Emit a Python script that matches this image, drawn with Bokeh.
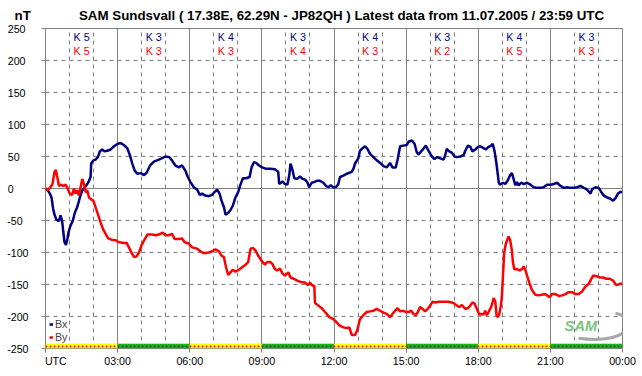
from bokeh.plotting import figure
from bokeh.models import Range1d, FixedTicker, Grid, Label, Legend, LegendItem, ColumnDataSource
from bokeh.embed import file_html
from bokeh.resources import INLINE

# ---------------- data ----------------
bx_hours = [0, 0.10, 0.18, 0.25, 0.32, 0.375, 0.46, 0.56, 0.625, 0.69, 0.74, 0.79, 0.85, 0.90, 0.96,
            1.04, 1.14, 1.22, 1.32, 1.43, 1.53, 1.64, 1.74, 1.81, 1.875, 1.90, 1.99, 2.08, 2.18, 2.26,
            2.36, 2.46, 2.57, 2.71, 2.85, 3.01, 3.125, 3.26, 3.40, 3.51, 3.61, 3.71, 3.82, 3.96, 4.10,
            4.21, 4.35, 4.51, 4.72, 4.99, 5.15, 5.26, 5.40, 5.54, 5.68, 5.82, 5.92, 6.03, 6.17, 6.31,
            6.42, 6.51, 6.65, 6.79, 6.93, 7.04, 7.14, 7.24, 7.32, 7.42, 7.49, 7.60, 7.69, 7.79, 7.90,
            8.01, 8.11, 8.21, 8.35, 8.49, 8.57, 8.67, 8.76, 8.88, 9.01, 9.15, 9.36, 9.54, 9.68, 9.72,
            9.86, 9.96, 10.06, 10.14, 10.19, 10.26, 10.35, 10.47, 10.58, 10.69, 10.79, 10.89, 10.97,
            11.07, 11.17, 11.28, 11.42, 11.56, 11.67, 11.76, 11.86, 11.97, 12.08, 12.18, 12.25, 12.39,
            12.53, 12.74, 12.81, 12.875, 13.01, 13.08, 13.19, 13.29, 13.39, 13.5, 13.64, 13.78, 13.92,
            14.06, 14.19, 14.33, 14.43, 14.57, 14.65, 14.75, 14.89, 15.03, 15.10, 15.24, 15.35, 15.44,
            15.51, 15.625, 15.72, 15.82, 15.93, 16.07, 16.18, 16.28, 16.42, 16.56, 16.625, 16.69,
            16.79, 16.90, 17.01, 17.11, 17.25, 17.39, 17.46, 17.57, 17.67, 17.76, 17.875, 17.99,
            18.08, 18.22, 18.32, 18.43, 18.54, 18.60, 18.68, 18.75, 18.82, 18.85, 18.90, 19.03,
            19.125, 19.22, 19.33, 19.40, 19.47, 19.54, 19.61, 19.68, 19.78, 19.89, 20.03, 20.17,
            20.31, 20.44, 20.58, 20.72, 20.86, 21.0, 21.14, 21.28, 21.42, 21.56, 21.69, 21.83, 21.97,
            22.11, 22.25, 22.39, 22.5, 22.6, 22.67, 22.74, 22.875, 23.01, 23.11, 23.22, 23.36, 23.5,
            23.61, 23.71, 23.81, 23.92, 23.99]
bx_values = [0, -3, -8, -14, -32, -41, -49, -51, -42, -50, -68, -84, -88, -81, -68,
             -58, -50, -38, -29, -14, -3, 2, 7, 12, 18, 39, 44, 45, 49, 58,
             61, 58, 59, 61, 66, 70, 71, 68, 63, 52, 39, 28, 23, 24, 21,
             25, 36, 42, 45, 50, 49, 44, 36, 33, 36, 28, 18, 10, 2, -2,
             -10, -8, -11, -12, -10, -5, -2, -8, -19, -29, -41, -38, -34, -27, -14,
             -6, 6, 16, 16, 18, 33, 41, 40, 36, 33, 31, 31, 30, 26, 7,
             11, 7, 6, 21, 39, 31, 16, 15, 19, 15, 14, 10, 2,
             9, 10, 12, 12, 9, 4, 2, 5, 2, 2, 7, 18, 20,
             23, 26, 31, 39, 47, 59, 63, 66, 62, 54, 49, 44, 40,
             35, 33, 40, 33, 33, 46, 66, 67, 68, 73, 75, 70, 57,
             53, 58, 62, 67, 59, 50, 46, 49, 47, 45, 52, 62,
             58, 56, 50, 49, 50, 52, 59, 67, 65, 58, 61, 65,
             66, 63, 61, 65, 67, 70, 58, 41, 20, 10, 6, 9,
             7, 12, 21, 24, 15, 5, 10, 5, 9, 7, 9, 6,
             2, 1, 1, 2, 6, 6, 7, 9, 4, 1, 2, 1, 1,
             2, 4, 1, -1, -5, -8, -1, 2, 1, -5, -11, -14, -16,
             -19, -15, -8, -5, -6]

by_hours = [0, 0.10, 0.21, 0.29, 0.375, 0.43, 0.49, 0.56, 0.625, 0.74, 0.83, 0.90, 1.01, 1.11, 1.18,
            1.25, 1.32, 1.39, 1.46, 1.53, 1.60, 1.67, 1.74, 1.81, 1.90, 1.99, 2.08, 2.18, 2.29, 2.40,
            2.5, 2.61, 2.74, 2.92, 3.06, 3.26, 3.375, 3.47, 3.57, 3.68, 3.79, 3.89, 3.99, 4.10, 4.24,
            4.44, 4.58, 4.71, 4.875, 4.99, 5.125, 5.26, 5.375, 5.54, 5.68, 5.79, 5.96, 6.10, 6.31,
            6.44, 6.58, 6.79, 6.93, 7.07, 7.21, 7.32, 7.42, 7.51, 7.60, 7.69, 7.79, 7.90, 8.04, 8.18,
            8.32, 8.43, 8.53, 8.625, 8.74, 8.85, 8.99, 9.125, 9.22, 9.36, 9.44, 9.54, 9.64, 9.75,
            9.86, 9.96, 10.10, 10.19, 10.33, 10.47, 10.61, 10.79, 10.93, 11.0, 11.11, 11.18, 11.21,
            11.35, 11.49, 11.625, 11.81, 11.97, 12.11, 12.22, 12.39, 12.53, 12.64, 12.74, 12.875,
            12.97, 13.08, 13.22, 13.36, 13.5, 13.64, 13.78, 13.92, 14.06, 14.19, 14.33, 14.43, 14.54,
            14.65, 14.75, 14.89, 14.99, 15.10, 15.21, 15.31, 15.40, 15.49, 15.58, 15.68, 15.79, 15.90,
            16.0, 16.10, 16.21, 16.35, 16.49, 16.625, 16.76, 16.90, 17.01, 17.11, 17.21, 17.32, 17.46,
            17.57, 17.67, 17.76, 17.85, 17.94, 18.04, 18.125, 18.22, 18.29, 18.36, 18.43, 18.54,
            18.60, 18.64, 18.71, 18.76, 18.82, 18.875, 18.93, 18.98, 19.03, 19.08, 19.15, 19.22,
            19.26, 19.33, 19.40, 19.44, 19.50, 19.61, 19.72, 19.82, 19.89, 19.96, 20.03, 20.14,
            20.24, 20.375, 20.51, 20.65, 20.79, 20.86, 20.97, 21.07, 21.21, 21.35, 21.49, 21.625,
            21.76, 21.90, 22.04, 22.18, 22.32, 22.46, 22.60, 22.69, 22.78, 22.92, 23.06, 23.19,
            23.33, 23.47, 23.61, 23.75, 23.89, 23.99]
by_values = [0, -2, 2, 7, 26, 29, 18, 4, 6, 4, 6, 2, -8, -10, 0,
             -8, -3, -11, 2, 15, 7, -6, -3, -14, -17, -19, -29, -40, -53, -64,
             -71, -78, -80, -81, -84, -85, -85, -92, -100, -107, -106, -100, -89, -81, -72,
             -72, -73, -72, -69, -73, -73, -71, -79, -79, -78, -84, -86, -92, -94,
             -98, -101, -100, -98, -95, -98, -105, -107, -123, -135, -131, -127, -130, -127, -123,
             -119, -115, -94, -93, -97, -105, -113, -119, -115, -115, -118, -126, -128, -125,
             -133, -136, -131, -139, -141, -144, -146, -147, -151, -147, -152, -152, -179,
             -183, -187, -193, -201, -204, -209, -214, -217, -218, -217, -229, -229,
             -221, -204, -198, -193, -192, -191, -188, -191, -194, -196, -201, -196, -191,
             -187, -192, -191, -193, -193, -191, -196, -198, -193, -185, -188, -192, -188,
             -183, -177, -178, -177, -177, -177, -177, -178, -180, -183, -185, -182, -188,
             -187, -183, -178, -180, -188, -197, -196, -197, -191, -198, -193, -185,
             -177, -171, -177, -198, -201, -196, -185, -170, -135, -100, -86, -79,
             -75, -81, -97, -115, -126, -126, -128, -126, -122, -127, -136, -149,
             -159, -166, -167, -166, -165, -167, -170, -165, -165, -168, -167, -165,
             -162, -162, -165, -165, -161, -153, -149, -142, -136, -137, -139, -139,
             -141, -141, -144, -151, -149, -149]

block_start = [0, 3, 6, 9, 12, 15, 18, 21]
k_bx = [5, 3, 4, 3, 4, 3, 4, 3]
k_by = [5, 3, 3, 4, 3, 2, 5, 3]
bar_state = ["y", "g", "y", "g", "y", "g", "y", "g"]

y_ticks = [250, 200, 150, 100, 50, 0, -50, -100, -150, -200, -250]
x_ticks = [0, 3, 6, 9, 12, 15, 18, 21, 24]
x_tick_labels = ["UTC", "03:00", "06:00", "09:00", "12:00", "15:00", "18:00", "21:00", "00:00"]

unit_text = "nT"
title_text = "SAM Sundsvall ( 17.38E, 62.29N - JP82QH ) Latest data from 11.07.2005 / 23:59 UTC"

# ---------------- styles ----------------
FONT = "Liberation Sans"
GRID = "#808080"
BX_COL = "#000080"
BY_COL = "#FF0000"
NB = "\u00a0"

p = figure(width=642, height=376, output_backend="svg", toolbar_location=None,
           x_range=Range1d(0, 24), y_range=Range1d(-250, 250),
           min_border_left=45, min_border_right=20, min_border_top=28, min_border_bottom=28)
p.background_fill_color = "white"
p.border_fill_color = "white"
p.outline_line_color = GRID
p.outline_line_width = 1
p.xgrid.visible = False
p.ygrid.visible = False

# title line: unit at far left, title text after it
p.title.text = unit_text + NB * 13 + title_text
p.title.align = "left"
p.title.offset = -31
p.title.standoff = 10
p.title.vertical_align = "middle"
p.title.text_font = FONT
p.title.text_font_size = "10pt"
p.title.text_font_style = "bold"
p.title.text_color = "black"

minor_x = [h for h in range(1, 24) if h % 3]
major_x = [h for h in range(3, 24, 3)]
minor_y = [t for t in y_ticks if t not in (0, 250, -250)]
p.add_layout(Grid(dimension=0, ticker=FixedTicker(ticks=minor_x), grid_line_color=GRID, grid_line_dash="4 4"))
p.add_layout(Grid(dimension=0, ticker=FixedTicker(ticks=major_x), grid_line_color=GRID))
p.add_layout(Grid(dimension=1, ticker=FixedTicker(ticks=minor_y), grid_line_color=GRID, grid_line_dash="4 4"))
p.add_layout(Grid(dimension=1, ticker=FixedTicker(ticks=[0]), grid_line_color=GRID))

# x axis
x_over = {}
for t, lab in zip(x_ticks, x_tick_labels):
    x_over[t] = (NB * 7 + lab) if t == 0 else lab
p.xaxis.ticker = FixedTicker(ticks=x_ticks)
p.xaxis.major_label_overrides = x_over
p.xaxis.axis_line_color = None
p.xaxis.major_tick_line_color = GRID
p.xaxis.major_tick_out = 4
p.xaxis.major_tick_in = 0
p.xaxis.minor_tick_line_color = None
p.xaxis.major_label_standoff = 2
p.xaxis.major_label_text_font = FONT
p.xaxis.major_label_text_font_size = "8pt"
p.xaxis.major_label_text_color = "black"

# y axis: labels padded so they appear left aligned
def pad(t):
    s = str(t)
    n = {1: 5, 2: 3, 3: 1}.get(len(s.lstrip("-")), 0) if t >= 0 else {2: 2, 3: 0}.get(len(s.lstrip("-")), 0)
    return s + NB * n

p.yaxis.ticker = FixedTicker(ticks=y_ticks)
p.yaxis.major_label_overrides = {t: pad(t) for t in y_ticks}
p.yaxis.axis_line_color = None
p.yaxis.major_tick_line_color = GRID
p.yaxis.major_tick_out = 4
p.yaxis.major_tick_in = 0
p.yaxis.minor_tick_line_color = None
p.yaxis.major_label_standoff = 13
p.yaxis.major_label_text_font = FONT
p.yaxis.major_label_text_font_size = "8pt"
p.yaxis.major_label_text_color = "black"

# status bar at bottom
bar_src = ColumnDataSource(dict(
    left=block_start,
    right=[s + 3 for s in block_start],
    fill=["#FFFF00" if s == "y" else "#20B020" for s in bar_state],
    hatch=["#FF0000" if s == "y" else "#006000" for s in bar_state],
))
p.quad(left="left", right="right", bottom=-250, top=-242.5, source=bar_src,
       fill_color="fill", line_color=None, hatch_pattern="dot", hatch_color="hatch",
       hatch_scale=4, hatch_weight=1)

# lines
r_bx = p.line(bx_hours, bx_values, line_color=BX_COL, line_width=2.5)
r_by = p.line(by_hours, by_values, line_color=BY_COL, line_width=2.5)

# K index labels
for s, kb, ky in zip(block_start, k_bx, k_by):
    p.add_layout(Label(x=s + 1.5, y=237.5, text=f"K {kb}", text_align="center", text_baseline="middle",
                       text_font=FONT, text_font_size="8pt", text_color=BX_COL))
    p.add_layout(Label(x=s + 1.5, y=215.5, text=f"K {ky}", text_align="center", text_baseline="middle",
                       text_font=FONT, text_font_size="8pt", text_color=BY_COL))

# legend (short thick line segments look like small squares)
legend = Legend(items=[LegendItem(label="Bx", renderers=[r_bx]), LegendItem(label="By", renderers=[r_by])],
                location=(4, 5), glyph_width=4, glyph_height=12, label_height=12, spacing=1,
                padding=0, margin=0, label_standoff=2, background_fill_alpha=0, border_line_color=None,
                label_text_font=FONT, label_text_font_size="8pt")
p.add_layout(legend)

# SAM logo
p.bezier(x0=[23.71], y0=[-195], x1=[22.17], y1=[-234], cx0=[24.75], cy0=[-203], cx1=[24.33], cy1=[-245],
         line_color="#A8A8A8", line_width=3)
p.add_layout(Label(x=22.27, y=-214.8, text="SAM", text_align="center", text_baseline="middle",
                   text_font=FONT, text_font_size="11pt", text_font_style="bold italic", text_color="#7CC47C"))

open("out.html", "w").write(file_html(p, INLINE))
